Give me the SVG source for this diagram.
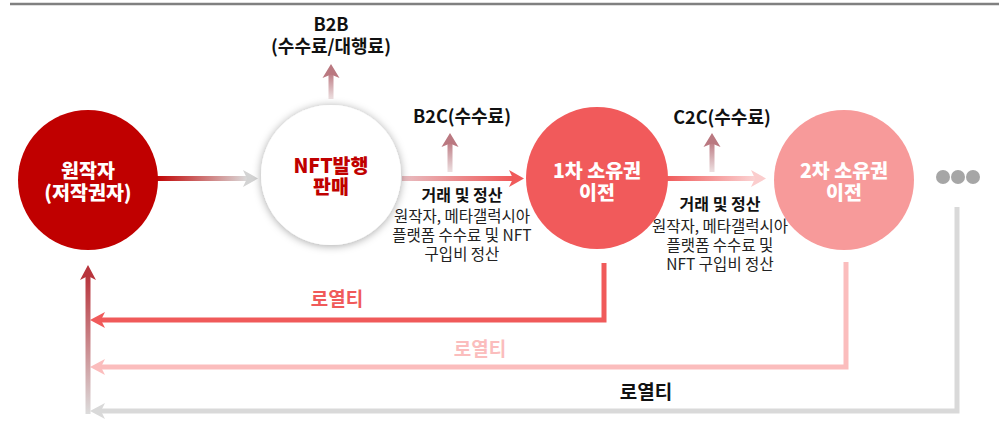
<svg xmlns="http://www.w3.org/2000/svg" width="999" height="425" viewBox="0 0 999 425">
<defs>
<style>
.node{font-family:"Noto Sans CJK KR","Noto Sans",sans-serif;font-weight:900;font-size:19.5px;text-anchor:middle}
.lbl{font-family:"Noto Sans CJK KR","Noto Sans",sans-serif;font-weight:700;font-size:18px;text-anchor:middle;fill:#111}
.sub{font-family:"Noto Sans CJK KR","Noto Sans",sans-serif;font-weight:700;font-size:16px;text-anchor:middle;fill:#111}
.desc{font-family:"Noto Sans CJK KR","Noto Sans",sans-serif;font-weight:400;font-size:15.5px;text-anchor:middle;fill:#222}
.roy{font-family:"Noto Sans CJK KR","Noto Sans",sans-serif;font-weight:700;font-size:19px;text-anchor:middle}
.rl{fill:none;stroke-width:5}
</style>
<filter id="sh" x="-30%" y="-30%" width="160%" height="160%">
<feDropShadow dx="0" dy="1" stdDeviation="4" flood-color="#000" flood-opacity="0.35"/>
</filter>
<linearGradient id="g1" x1="0" y1="0" x2="1" y2="0"><stop offset="0" stop-color="#C00000"/><stop offset="1" stop-color="#DADADA"/></linearGradient>
<linearGradient id="g2" x1="0" y1="0" x2="1" y2="0"><stop offset="0" stop-color="#E8BDC1"/><stop offset="1" stop-color="#F05A5A"/></linearGradient>
<linearGradient id="g3" x1="0" y1="0" x2="1" y2="0"><stop offset="0" stop-color="#F05A5A"/><stop offset="1" stop-color="#FBD3D3"/></linearGradient>
<linearGradient id="gu" x1="0" y1="0" x2="0" y2="1"><stop offset="0" stop-color="#BE7E86"/><stop offset="1" stop-color="#EDE0E1"/></linearGradient>
<linearGradient id="gl" x1="0" y1="0" x2="0" y2="1"><stop offset="0" stop-color="#B8343C"/><stop offset="1" stop-color="#DCDCDC"/></linearGradient>
</defs>

<line x1="10" y1="4" x2="999" y2="4" stroke="#808080" stroke-width="2.5"/>

<g id="connectors">
<rect x="155" y="176" width="92" height="5" fill="url(#g1)"/>
<path d="M243,170 L258,178.5 L243,187 L247,178.5 z" fill="#D3D3D3"/>
<rect x="402" y="176" width="111" height="5" fill="url(#g2)"/>
<path d="M509,170 L524,178.5 L509,187 L513,178.5 z" fill="#F05A5A"/>
<rect x="666" y="176" width="89" height="5" fill="url(#g3)"/>
<path d="M751,170 L766,178.5 L751,187 L755,178.5 z" fill="#FBCDCD"/>

<rect x="328.5" y="74" width="5" height="25" fill="url(#gu)"/>
<path d="M322.5,78 L331,64 L339.5,78 L331,74.5 z" fill="#BA7880"/>
<rect x="447.5" y="143" width="5" height="29" fill="url(#gu)"/>
<path d="M441.5,147 L450,133 L458.5,147 L450,143.5 z" fill="#BA7880"/>
<rect x="709.5" y="143" width="5" height="29" fill="url(#gu)"/>
<path d="M703.5,147 L712,133 L720.5,147 L712,143.5 z" fill="#BA7880"/>

<path class="rl" d="M604,263 V320 H100" stroke="#F05A5A"/>
<path d="M105,312 L90,320 L105,328 L101,320 z" fill="#F05A5A"/>
<path class="rl" d="M846,262 V367 H100" stroke="#FBBDBD"/>
<path d="M105,359 L90,367 L105,375 L101,367 z" fill="#FBBDBD"/>
<path class="rl" d="M957,207 V411 H100" stroke="#D9D9D9"/>
<path d="M105,403 L90,411 L105,419 L101,411 z" fill="#D9D9D9"/>

<rect x="85.5" y="276" width="5" height="138" fill="url(#gl)"/>
<path d="M80,280 L88,265 L96,280 L88,276 z" fill="#B8343C"/>
</g>

<g id="n1">
<circle cx="88" cy="180" r="70" fill="#C00000"/>
<text class="node" fill="#fff"><tspan x="88" y="178">원작자</tspan><tspan x="88" y="200">(저작권자)</tspan></text>
</g>
<g id="n2">
<circle cx="331" cy="175" r="70" fill="#fff" filter="url(#sh)"/>
<text class="node" fill="#C00000"><tspan x="331" y="173">NFT발행</tspan><tspan x="331" y="194">판매</tspan></text>
</g>
<g id="n3">
<circle cx="597" cy="178" r="71" fill="#F15A5B"/>
<text class="node" fill="#fff"><tspan x="597" y="178">1차 소유권</tspan><tspan x="597" y="200">이전</tspan></text>
</g>
<g id="n4">
<circle cx="844" cy="180" r="70" fill="#F79A9A"/>
<text class="node" fill="#fff"><tspan x="844" y="178">2차 소유권</tspan><tspan x="844" y="200">이전</tspan></text>
</g>
<g id="dots">
<circle cx="943" cy="177" r="7" fill="#A6A6A6"/>
<circle cx="958" cy="177" r="7" fill="#A6A6A6"/>
<circle cx="973" cy="177" r="7" fill="#A6A6A6"/>
</g>

<g id="labels">
<text class="lbl"><tspan x="331" y="31">B2B</tspan><tspan x="331" y="53">(수수료/대행료)</tspan></text>
<text class="lbl" x="462" y="123">B2C(수수료)</text>
<text class="lbl" x="722" y="124">C2C(수수료)</text>
<text class="sub" x="462" y="201">거래 및 정산</text>
<text class="desc"><tspan x="462" y="222">원작자, 메타갤럭시아</tspan><tspan x="462" y="241">플랫폼 수수료 및 NFT</tspan><tspan x="462" y="260">구입비 정산</tspan></text>
<text class="sub" x="720" y="210">거래 및 정산</text>
<text class="desc"><tspan x="720" y="232">원작자, 메타갤럭시아</tspan><tspan x="720" y="251">플랫폼 수수료 및</tspan><tspan x="720" y="270">NFT 구입비 정산</tspan></text>
<text class="roy" x="337" y="306" fill="#F05A5A">로열티</text>
<text class="roy" x="480" y="356" fill="#FBBDBD">로열티</text>
<text class="roy" x="646" y="399" fill="#111">로열티</text>
</g>
</svg>
